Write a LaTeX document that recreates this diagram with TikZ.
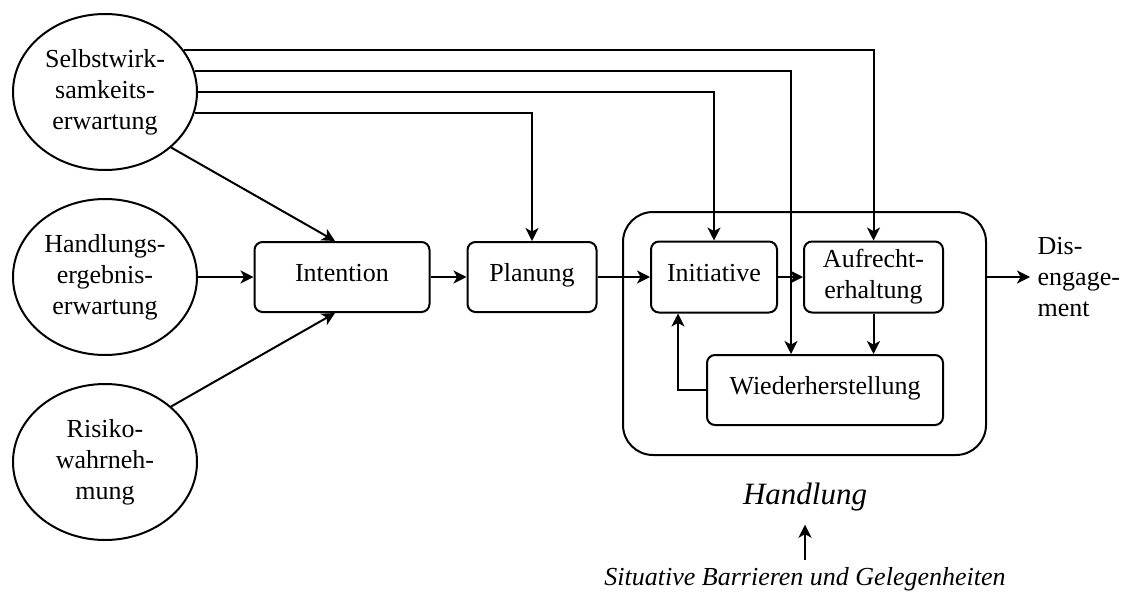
\documentclass[tikz,border=0pt]{standalone}
\usepackage{fontspec}
\setmainfont{Liberation Serif}
\usetikzlibrary{arrows.meta,shapes}
\usetikzlibrary{positioning}
\usetikzlibrary{calc}
\tikzset{
	>={Stealth[length=6.5pt, width=6.5pt, inset=1.8pt]},
	factor/.style={draw=black, ellipse, align=center, inner sep=0pt,
		minimum width=92pt, minimum height=78pt},
	phase/.style={draw=black, rounded corners=4pt, align=center,
		minimum height=35pt},
	oneline/.style={text height=0.7em, text depth=0.25em},
	flow/.style={draw=black, ->},
}

\begin{document}
\begin{tikzpicture}[x=0.5pt, y=-0.5pt, line width=1pt, font=\fontsize{13}{15.5}\selectfont]
\useasboundingbox (0,0) rectangle (1135,594);

% Einflussfaktoren
\node[factor] (selbst) at (105,92) {Selbstwirk-\\samkeits-\\erwartung};
\node[factor] (ergebnis) at (105,277) {Handlungs-\\ergebnis-\\erwartung};
\node[factor] (risiko) at (105,462) {Risiko-\\wahrneh-\\mung};

% Phasen
\node[phase, oneline, minimum width=87.5pt] (intention) at (342,277) {Intention};
\node[phase, oneline, minimum width=64.5pt] (planung) at (532,277) {Planung};

\node[draw=black, rounded corners=15pt, minimum width=181.5pt, minimum height=121.5pt] (handlungbox) at (804.5,333.5) {};
\node[phase, oneline, minimum width=63pt, minimum height=35.5pt] (initiative) at (714,277) {Initiative};
\node[phase, minimum width=69.5pt, minimum height=35.5pt] (aufr) at (873.5,277) {Aufrecht-\\erhaltung};
\node[phase, oneline, minimum width=118pt] (wieder) at (825,390) {Wiederherstellung};

\node[anchor=west, align=left] (diseng) at (1030,277) {Dis-\\engage-\\ment};
\node[font=\fontsize{15.5}{18}\selectfont\itshape] (hlabel) at (805,497) {Handlung};
\node[font=\fontsize{13}{15.5}\selectfont\itshape] (situ) at (805,579) {Situative Barrieren und Gelegenheiten};

% Pfeile
\draw[flow] (selbst.-40) -- ([xshift=-3.5pt]intention.north);
\draw[flow] (ergebnis) -- (intention);
\draw[flow] (risiko.40) -- ([xshift=-3.5pt]intention.south);

\draw[flow] (selbst.28.5) -| (aufr.north);
\draw[flow] (selbst.13.3) -| ([xshift=-17pt]wieder.north);
\draw[flow] (selbst.0) -| (initiative.north);
\draw[flow] (selbst.-13.3) -| (planung.north);

\draw[flow] (intention) -- (planung);
\draw[flow] (planung) -- (initiative);
\draw[flow] (initiative) -- (aufr);
\draw[flow] (aufr.south) -- (aufr.south |- wieder.north);
\draw[flow] (wieder.west) -| ([xshift=14pt]initiative.south west);
\draw[flow] (diseng.west -| handlungbox.east) -- (diseng.west);

\draw[flow, shorten >=3pt] (situ.north) -- (hlabel.south);
\end{tikzpicture}
\end{document}
